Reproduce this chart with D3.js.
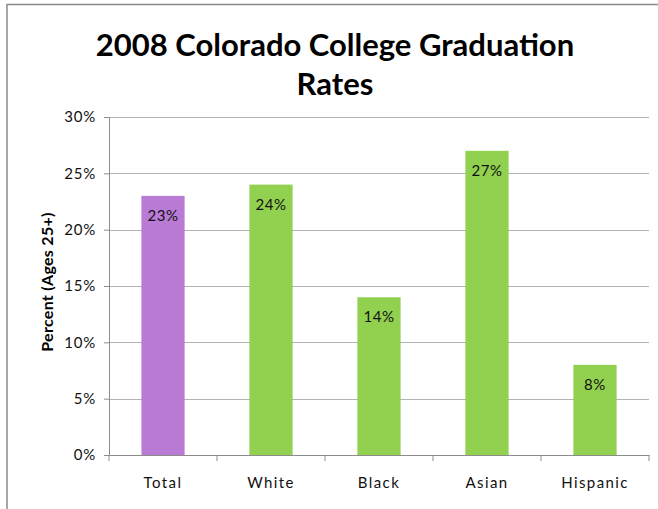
<!DOCTYPE html>
<html>
<head>
<meta charset="utf-8">
<script src="https://cdn.jsdelivr.net/npm/d3@7"></script>
<style>
  body { margin: 0; background: #fff; }
  svg text { font-family: Lato, "Open Sans", sans-serif; }
</style>
</head>
<body>
<svg id="chart" width="658" height="509"></svg>
<script>
"use strict";

// === Data ===
let categories = ["Total", "White", "Black", "Asian", "Hispanic"];
let rates = [23, 24, 14, 27, 8];
let yTicks = [0, 5, 10, 15, 20, 25, 30];
let titleLines = ["2008 Colorado College Graduation", "Rates"];

// === Layout ===
let svg = d3.select("#chart");
let plot = { left: 109, right: 649, top: 117, bottom: 455 };

// chart frame: only the top and left edges are inside the picture
svg.append("path")
  .attr("d", "M7,509 V4.5 H658")
  .attr("fill", "none")
  .attr("stroke", "#8a8a8a")
  .attr("stroke-width", 1.5);

let x = d3.scaleBand()
  .domain(categories)
  .range([plot.left, plot.right])
  .paddingInner(0.6)
  .paddingOuter(0.3);

let y = d3.scaleLinear()
  .domain([0, 30])
  .range([plot.bottom, plot.top]);

// === Gridlines ===
svg.append("g")
  .selectAll("line")
  .data(yTicks.filter(d => d > 0))
  .join("line")
  .attr("x1", plot.left).attr("x2", plot.right)
  .attr("y1", d => Math.round(y(d)) + 0.5)
  .attr("y2", d => Math.round(y(d)) + 0.5)
  .attr("stroke", "#b3b3b3")
  .attr("stroke-width", 1.2);

// === Bars ===
svg.append("g")
  .selectAll("rect")
  .data(categories)
  .join("rect")
  .attr("x", d => x(d))
  .attr("width", x.bandwidth())
  .attr("y", (d, i) => y(rates[i]))
  .attr("height", (d, i) => plot.bottom - y(rates[i]))
  .attr("fill", (d, i) => i === 0 ? "#ba7bd6" : "#92d050");

// value labels
svg.append("g")
  .selectAll("text")
  .data(categories)
  .join("text")
  .attr("x", d => x(d) + x.bandwidth() / 2)
  .attr("y", (d, i) => y(rates[i]) + 25)
  .attr("text-anchor", "middle")
  .attr("font-size", 15)
  .attr("letter-spacing", 0.6)
  .attr("fill", "#111")
  .text((d, i) => rates[i] + "%");

// === Axes ===
let yAxis = svg.append("g")
  .attr("transform", `translate(${plot.left},0)`)
  .call(d3.axisLeft(y).tickValues(yTicks).tickSize(5).tickPadding(8)
    .tickFormat(d => d + "%"));

let xAxis = svg.append("g")
  .attr("transform", `translate(0,${plot.bottom})`)
  .call(d3.axisBottom(x).tickSize(0).tickPadding(22));

// category boundary ticks like Excel
let bounds = d3.range(categories.length + 1)
  .map(i => plot.left + i * (plot.right - plot.left) / categories.length);
svg.append("g")
  .selectAll("line")
  .data(bounds)
  .join("line")
  .attr("x1", d => d).attr("x2", d => d)
  .attr("y1", plot.bottom).attr("y2", plot.bottom + 6)
  .attr("stroke", "#8c8c8c");

[yAxis, xAxis].forEach(g => {
  g.select(".domain").attr("stroke", "#8c8c8c");
  g.selectAll(".tick line").attr("stroke", "#8c8c8c");
  g.selectAll("text")
    .attr("font-family", "Lato, 'Open Sans', sans-serif")
    .attr("font-size", 15)
    .attr("letter-spacing", 0.8)
    .attr("fill", "#111");
});
xAxis.selectAll("text").attr("letter-spacing", 1.4);

// === Titles ===
svg.append("g")
  .selectAll("text")
  .data(titleLines)
  .join("text")
  .attr("x", 335)
  .attr("y", (d, i) => 56 + i * 39)
  .attr("text-anchor", "middle")
  .attr("font-size", 31)
  .attr("font-weight", "bold")
  .attr("fill", "#000")
  .text(d => d);

svg.append("text")
  .attr("transform", `translate(47,282) rotate(-90)`)
  .attr("dy", "0.35em")
  .attr("text-anchor", "middle")
  .attr("font-size", 16)
  .attr("font-weight", "bold")
  .attr("letter-spacing", 0.3)
  .attr("fill", "#000")
  .text("Percent (Ages 25+)");
</script>
</body>
</html>
